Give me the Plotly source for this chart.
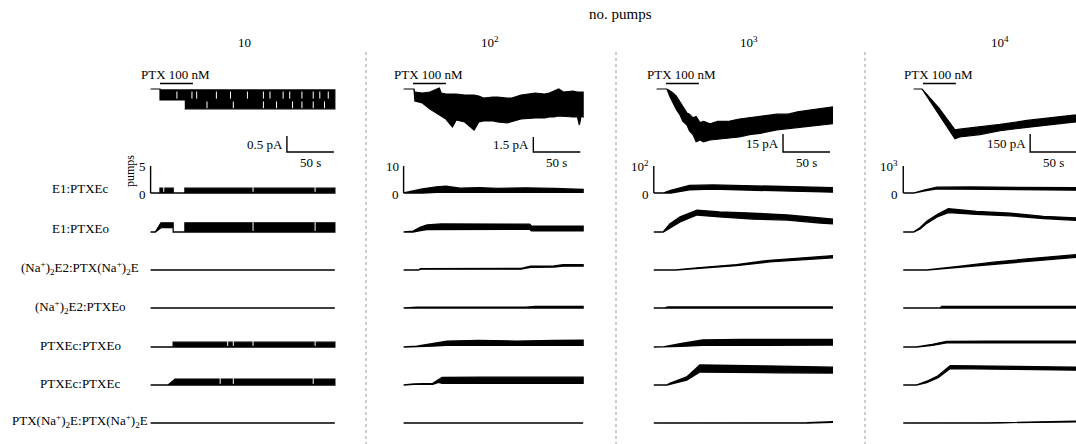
import plotly.graph_objects as go

W, H = 1076, 444

# ------------------------------------------------------------------ data
column_titles = ["10", "10<sup>2</sup>", "10<sup>3</sup>", "10<sup>4</sup>"]
row_labels = [
    "E1:PTXEc",
    "E1:PTXEo",
    "(Na<sup>+</sup>)<sub>2</sub>E2:PTX(Na<sup>+</sup>)<sub>2</sub>E",
    "(Na<sup>+</sup>)<sub>2</sub>E2:PTXEo",
    "PTXEc:PTXEo",
    "PTXEc:PTXEc",
    "PTX(Na<sup>+</sup>)<sub>2</sub>E:PTX(Na<sup>+</sup>)<sub>2</sub>E",
]
pump_scale = [5, 10, 100, 1000]
pump_scale_labels = ["5", "10", "10<sup>2</sup>", "10<sup>3</sup>"]
current_scale_pA = [0.5, 1.5, 15, 150]
current_scale_labels = ["0.5 pA", "1.5 pA", "15 pA", "150 pA"]
time_scale_s = 50
ptx_on_s, ptx_off_s = 10, 45
row_start_s = [0, 0, -3, -11]

# --- column 1 (10 pumps): current (pA) and state occupancies (pumps)
cur1_t = [0, 10, 10, 37, 37, 196]
cur1_hi = [0, 0, -0.03, -0.03, -0.03, -0.03]
cur1_lo = [0, 0, -0.34, -0.34, -0.62, -0.62]
cur1_level_pA = -0.34
cur1_gaps_upper_s = [28, 44, 49, 70, 85, 103, 120, 127, 141, 148, 161, 173, 180, 189]
cur1_gaps_lower_s = [60, 88, 120, 134, 151, 161, 173, 185]

c1r1_t = [0, 10, 10, 24, 24, 36.5, 36.5, 196]
c1r1_hi = [0, 0, 0.9, 0.9, 0, 0, 0.9, 0.9]
c1r1_lo = [0, 0, 0, 0, 0, 0, 0, 0]
c1r1_gaps_s = [14, 109, 175]
c1r2_t = [0, 5, 11, 24, 24, 36.5, 36.5, 196]
c1r2_hi = [0, 0, 1.7, 1.7, 0, 0, 1.7, 1.7]
c1r2_lo = [0, 0, 0.8, 0.8, 0, 0, 0, 0]
c1r2_gaps_s = [109, 175]
c1r3_t = [0, 196]
c1r3_hi = [0, 0]
c1r3_lo = [0, 0]
c1r4_t = [0, 196]
c1r4_hi = [0, 0]
c1r4_lo = [0, 0]
c1r5_t = [0, 24, 24, 196]
c1r5_hi = [0, 0, 0.9, 0.9]
c1r5_lo = [0, 0, 0, 0]
c1r5_gaps_s = [82, 88, 109, 175]
c1r6_t = [0, 18.5, 26, 196]
c1r6_hi = [0, 0, 1.1, 1.1]
c1r6_lo = [0, 0, 0, 0]
c1r6_gaps_s = [74, 88, 173]
c1r7_t = [0, 196]
c1r7_hi = [0, 0]
c1r7_lo = [0, 0]

# --- column 2 (10^2 pumps)
cur2_t = [0, 11, 12, 20, 28, 38, 40, 45, 52, 56, 65, 75, 80, 85, 95, 100, 110,
          115, 125, 140, 150, 155, 160, 165, 170, 180, 185, 187, 189, 191]
cur2_hi = [0, 0, -0.3, -0.4, -0.3, 0.1, -0.4, -0.5, -0.5, -0.5, -0.6, -0.6, -0.7,
           -0.9, -0.8, -0.8, -0.9, -0.9, -0.6, -0.4, -0.5, -0.4, -0.2, 0.0, -0.3,
           -0.2, -0.3, -0.3, -0.3, -0.3]
cur2_lo = [0, 0, -1.2, -1.4, -2.0, -2.6, -2.7, -3.0, -3.8, -3.1, -3.3, -4.1, -3.3,
           -3.2, -3.2, -3.3, -3.4, -3.3, -3.0, -2.9, -2.9, -2.8, -2.8, -2.7, -2.7,
           -2.8, -2.8, -3.6, -2.7, -2.8]

c2r1_t = [0, 10, 20, 35, 45, 60, 80, 100, 130, 160, 191]
c2r1_hi = [0, 0.8, 1.5, 2.3, 2.5, 1.8, 2.0, 1.7, 1.9, 1.7, 1.3]
c2r1_lo = [0, 0, 0, 0.2, 0.3, 0.2, 0.3, 0.2, 0.3, 0.2, 0.2]
c2r2_t = [0, 10, 18, 25, 40, 80, 120, 134, 136, 160, 191]
c2r2_hi = [0, 0.3, 1.8, 2.6, 3.0, 3.0, 2.9, 2.9, 2.2, 2.2, 2.2]
c2r2_lo = [0, 0, 0.5, 0.9, 1.0, 1.1, 1.0, 1.0, 0.4, 0.4, 0.4]
c2r3_t = [0, 16, 18, 125, 135, 160, 170, 191]
c2r3_hi = [0, 0, 0.5, 0.6, 1.4, 1.5, 2.0, 2.0]
c2r3_lo = [0, 0, 0.3, 0.3, 1.0, 1.1, 1.4, 1.4]
c2r4_t = [0, 15, 130, 140, 191]
c2r4_hi = [0, 0.3, 0.3, 0.6, 0.6]
c2r4_lo = [0, 0, 0, 0, 0]
c2r5_t = [0, 14, 30, 46, 80, 120, 160, 191]
c2r5_hi = [0, 0.3, 1.2, 2.2, 2.4, 2.2, 2.4, 2.5]
c2r5_lo = [0, 0, 0.3, 0.6, 0.6, 0.6, 0.6, 0.6]
c2r6_t = [0, 11, 31, 37, 41, 80, 120, 160, 191]
c2r6_hi = [0, 0.4, 0.6, 2.0, 2.8, 2.9, 2.8, 2.9, 2.9]
c2r6_lo = [0, 0.2, 0.2, 1.0, 0.6, 0.7, 0.6, 0.6, 0.6]
c2r7_t = [0, 191]
c2r7_hi = [0, 0]
c2r7_lo = [0, 0]

# --- column 3 (10^3 pumps)
cur3_t = [0, 11, 14, 17.4, 21, 24.9, 28, 32.3, 35, 38.7, 42, 46.2, 50, 56.8, 65,
          78, 88, 99, 110, 128, 140, 150, 163, 175, 187]
cur3_hi = [0, 0, -1.5, -3.3, -6, -10.8, -15, -20, -21, -24, -23, -28, -27, -29, -27,
           -26.7, -25, -24, -23, -21, -21, -19, -17.5, -16, -15]
cur3_lo = [0, 0, -6, -11.7, -17, -21.7, -27, -30, -35, -38, -44, -42.5, -44, -42.5,
           -42, -40.8, -40, -38, -37, -34, -33, -32, -31, -30, -29]

c3r1_t = [-3, 7, 15, 25, 35, 60, 100, 140, 187]
c3r1_hi = [0, 0, 10, 20, 28, 30, 27, 24, 20]
c3r1_lo = [0, 0, 0, 5, 12, 14, 11, 8, 3]
c3r2_t = [-3, 7, 14, 25, 43, 67, 102, 139, 174, 187]
c3r2_hi = [0, 0, 30, 56, 81, 74, 70, 63, 52, 48]
c3r2_lo = [0, 0, 15, 37, 63, 56, 48, 44, 33, 30]
c3r3_t = [-3, 20, 43, 85, 120, 156, 187]
c3r3_hi = [0, 0, 8, 20, 36, 44, 53]
c3r3_lo = [0, 0, 6, 16, 30, 37, 45]
c3r4_t = [-3, 8, 12, 187]
c3r4_hi = [0, 0, 4, 4]
c3r4_lo = [0, 0, 0, 0]
c3r5_t = [-3, 7, 25, 49, 90, 140, 187]
c3r5_hi = [0, 0, 12, 26, 28, 28, 28]
c3r5_lo = [0, 0, 2, 6, 7, 7, 7]
c3r6_t = [-3, 11, 14, 32, 46, 80, 130, 187]
c3r6_hi = [0, 0, 6, 30, 74, 73, 70, 66]
c3r6_lo = [0, 0, 2, 18, 48, 46, 45, 44]
c3r7_t = [-3, 160, 187]
c3r7_hi = [0, 1, 5]
c3r7_lo = [0, 0, 2]

# --- column 4 (10^4 pumps)
cur4_t = [0, 9, 27, 44, 49, 70.6, 92, 120.6, 156, 174, 190]
cur4_hi = [0, 0, -160, -340, -335, -318, -295, -262, -228, -212, -200]
cur4_lo = [0, 0, -215, -415, -400, -380, -348, -320, -288, -272, -260]

c4r1_t = [-11, 0, 12, 25, 60, 100, 140, 190]
c4r1_hi = [0, 0, 120, 215, 225, 215, 200, 190]
c4r1_lo = [0, 0, 80, 150, 150, 130, 110, 100]
c4r2_t = [-11, 0, 7, 14, 25, 37, 67, 103, 138, 173, 190]
c4r2_hi = [0, 0, 170, 400, 650, 860, 760, 700, 580, 530, 500]
c4r2_lo = [0, 0, 110, 320, 560, 720, 650, 600, 500, 430, 400]
c4r3_t = [-11, 14, 50, 85, 130, 173, 190]
c4r3_hi = [0, 0, 140, 290, 440, 570, 620]
c4r3_lo = [0, 0, 100, 220, 350, 470, 520]
c4r4_t = [-11, 28, 30, 190]
c4r4_hi = [0, 0, 60, 60]
c4r4_lo = [0, 0, 0, 0]
c4r5_t = [-11, 3, 20, 35, 80, 130, 190]
c4r5_hi = [0, 0, 100, 210, 220, 220, 220]
c4r5_lo = [0, 0, 60, 150, 150, 150, 150]
c4r6_t = [-11, 3, 14, 26, 39, 80, 130, 190]
c4r6_hi = [0, 0, 140, 340, 720, 700, 680, 650]
c4r6_lo = [0, 0, 90, 270, 610, 590, 570, 540]
c4r7_t = [-11, 80, 173, 190]
c4r7_hi = [0, 5, 70, 80]
c4r7_lo = [0, 0, 40, 50]

currents = [
    (cur1_t, cur1_hi, cur1_lo), (cur2_t, cur2_hi, cur2_lo),
    (cur3_t, cur3_hi, cur3_lo), (cur4_t, cur4_hi, cur4_lo),
]
states = [
    [(c1r1_t, c1r1_hi, c1r1_lo), (c1r2_t, c1r2_hi, c1r2_lo), (c1r3_t, c1r3_hi, c1r3_lo),
     (c1r4_t, c1r4_hi, c1r4_lo), (c1r5_t, c1r5_hi, c1r5_lo), (c1r6_t, c1r6_hi, c1r6_lo),
     (c1r7_t, c1r7_hi, c1r7_lo)],
    [(c2r1_t, c2r1_hi, c2r1_lo), (c2r2_t, c2r2_hi, c2r2_lo), (c2r3_t, c2r3_hi, c2r3_lo),
     (c2r4_t, c2r4_hi, c2r4_lo), (c2r5_t, c2r5_hi, c2r5_lo), (c2r6_t, c2r6_hi, c2r6_lo),
     (c2r7_t, c2r7_hi, c2r7_lo)],
    [(c3r1_t, c3r1_hi, c3r1_lo), (c3r2_t, c3r2_hi, c3r2_lo), (c3r3_t, c3r3_hi, c3r3_lo),
     (c3r4_t, c3r4_hi, c3r4_lo), (c3r5_t, c3r5_hi, c3r5_lo), (c3r6_t, c3r6_hi, c3r6_lo),
     (c3r7_t, c3r7_hi, c3r7_lo)],
    [(c4r1_t, c4r1_hi, c4r1_lo), (c4r2_t, c4r2_hi, c4r2_lo), (c4r3_t, c4r3_hi, c4r3_lo),
     (c4r4_t, c4r4_hi, c4r4_lo), (c4r5_t, c4r5_hi, c4r5_lo), (c4r6_t, c4r6_hi, c4r6_lo),
     (c4r7_t, c4r7_hi, c4r7_lo)],
]
col1_row_gaps = {0: c1r1_gaps_s, 1: c1r2_gaps_s, 4: c1r5_gaps_s, 5: c1r6_gaps_s}

# ------------------------------------------------------------------ layout geometry (pixels)
FONT = "Liberation Serif, Times New Roman, serif"
col_origin_px = [150.6, 403.6, 656.6, 913.6]
px_per_s = 0.94
cur_zero_px = 89
cur_panel_px = (50, 170)
px_per_pA = [32, 10, 1.2, 0.12]
row_base_px = [193, 232, 270, 308, 347, 385, 423]
row_label_px = [188, 228, 268, 307, 345, 383, 421]
row_label_x_px = 80
px_per_fullscale = 27
scalebar_t = [145, 138, 134.5, 124]
scalebar_px = 152  # bottom of vertical scale bar (px)
col_title_x_px = [244, 490, 749, 1000]
separator_x_px = [366, 616, 865]


def px_x(p):
    return p / W


def px_y(p):
    return 1 - p / H


fig = go.Figure()
axes = {}
annotations = []


def ref(n):
    return ("x", "y") if n == 1 else (f"x{n}", f"y{n}")


def make_axes(n, c, ydom_px, yrange):
    o = col_origin_px[c]
    d0 = o - 20
    d1 = min(o + 205, W)
    xr = [(d0 - o) / px_per_s, (d1 - o) / px_per_s]
    xn = "xaxis" if n == 1 else f"xaxis{n}"
    yn = "yaxis" if n == 1 else f"yaxis{n}"
    xa, ya = ref(n)
    axes[xn] = dict(domain=[px_x(d0), px_x(d1)], range=xr, visible=False,
                    anchor=ya, fixedrange=True)
    axes[yn] = dict(domain=[px_y(ydom_px[1]), px_y(ydom_px[0])], range=yrange,
                    visible=False, anchor=xa, fixedrange=True)


def band(n, t, hi, lo, width=1.3):
    xa, ya = ref(n)
    xs = list(t) + list(t)[::-1]
    ys = list(hi) + list(lo)[::-1]
    fig.add_trace(go.Scatter(x=xs, y=ys, xaxis=xa, yaxis=ya, mode="lines",
                             fill="toself", fillcolor="black",
                             line=dict(color="black", width=width),
                             hoverinfo="skip", showlegend=False))


def seg(n, xs, ys, width=1.4, color="black"):
    xa, ya = ref(n)
    fig.add_trace(go.Scatter(x=xs, y=ys, xaxis=xa, yaxis=ya, mode="lines",
                             line=dict(color=color, width=width),
                             hoverinfo="skip", showlegend=False))


def gaps(n, times, y0, y1, width=1.0):
    xs, ys = [], []
    for g in times:
        xs += [g, g, None]
        ys += [y0, y1, None]
    seg(n, xs, ys, width=width, color="white")


def note(n, x, y, text, xanchor="center", yanchor="middle", xshift=0, yshift=0, size=13):
    xa, ya = ref(n)
    annotations.append(dict(x=x, y=y, xref=xa, yref=ya, text=text, showarrow=False,
                            xanchor=xanchor, yanchor=yanchor, xshift=xshift,
                            yshift=yshift, font=dict(family=FONT, size=size, color="black")))


n = 0
for c in range(4):
    # current panel
    n += 1
    k = px_per_pA[c]
    yr = [-(cur_panel_px[1] - cur_zero_px) / k, (cur_zero_px - cur_panel_px[0]) / k]
    make_axes(n, c, cur_panel_px, yr)
    t, hi, lo = currents[c]
    band(n, t, hi, lo, width=1.2)
    if c == 0:
        gaps(n, cur1_gaps_upper_s, -0.08, cur1_level_pA + 0.04)
        gaps(n, cur1_gaps_lower_s, cur1_level_pA - 0.05, -0.6)
    # PTX bar and label
    ptx_y = (cur_zero_px - 83.5) / k
    seg(n, [ptx_on_s, ptx_off_s], [ptx_y, ptx_y], width=1.4)
    note(n, (ptx_on_s + ptx_off_s) / 2 - 1, ptx_y, "PTX 100 nM", yanchor="bottom", yshift=-1)
    # scale bars
    y0 = -(scalebar_px - cur_zero_px) / k
    tv = scalebar_t[c]
    seg(n, [tv, tv, tv + time_scale_s], [y0 + current_scale_pA[c], y0, y0], width=1.4)
    note(n, tv, y0 + current_scale_pA[c] / 2, current_scale_labels[c], xanchor="right", xshift=-2)
    note(n, tv + time_scale_s / 2, y0, f"{time_scale_s} s", yanchor="top", yshift=-1)

    # state rows
    S = pump_scale[c]
    for r in range(7):
        n += 1
        b = row_base_px[r]
        per_px = S / px_per_fullscale
        make_axes(n, c, (b - 31, b + 8), [-8 * per_px, 31 * per_px])
        t, hi, lo = states[c][r]
        band(n, t, hi, lo, width=1.3)
        if c == 0 and r in col1_row_gaps:
            gaps(n, col1_row_gaps[r], 0.2, max(hi) + 0.3)
        if r == 0:
            t0 = row_start_s[c]
            seg(n, [t0, t0], [S, 0], width=1.4)
            note(n, t0, S, pump_scale_labels[c], xanchor="right", xshift=-3)
            note(n, t0, 0, "0", xanchor="right", xshift=-3, yshift=-1)
            if c == 0:
                note(n, t0, S * 0.8, "pumps", xanchor="right", xshift=-11, size=12)
                annotations[-1]["textangle"] = -90

# row labels
for r, lab in enumerate(row_labels):
    annotations.append(dict(x=px_x(row_label_x_px), y=px_y(row_label_px[r]), xref="paper",
                            yref="paper", text=lab, showarrow=False, xanchor="center",
                            yanchor="middle", font=dict(family=FONT, size=13, color="black")))

# column titles
for c, title in enumerate(column_titles):
    annotations.append(dict(x=px_x(col_title_x_px[c]), y=px_y(42), xref="paper", yref="paper",
                            text=title, showarrow=False, xanchor="center", yanchor="middle",
                            font=dict(family=FONT, size=13, color="black")))
annotations.append(dict(x=px_x(620), y=px_y(14), xref="paper", yref="paper", text="no. pumps",
                        showarrow=False, xanchor="center", yanchor="middle",
                        font=dict(family=FONT, size=15, color="black")))

shapes = [dict(type="line", xref="paper", yref="paper", x0=px_x(sx), x1=px_x(sx),
               y0=px_y(52), y1=0, line=dict(color="#9a9a9a", width=1, dash="dot"))
          for sx in separator_x_px]

fig.update_layout(width=W, height=H, margin=dict(l=0, r=0, t=0, b=0),
                  paper_bgcolor="white", plot_bgcolor="rgba(0,0,0,0)",
                  showlegend=False, annotations=annotations, shapes=shapes, **axes)

fig.write_html("out.html", config={"displayModeBar": False, "staticPlot": True},
               post_script="document.body.style.margin='0';document.body.style.overflow='hidden';")
